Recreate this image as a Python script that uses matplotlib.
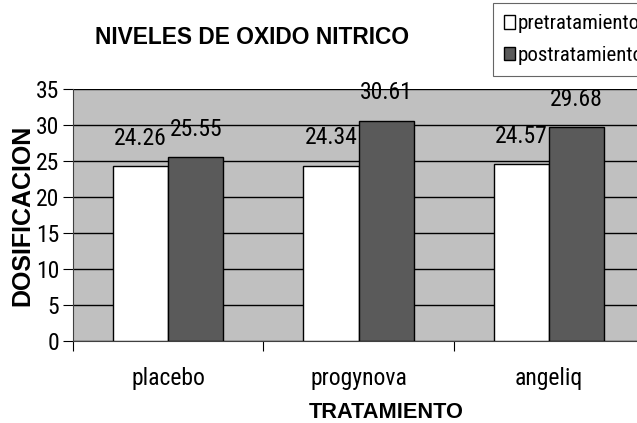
import matplotlib
matplotlib.use('Agg')
import matplotlib.pyplot as plt
from matplotlib import font_manager
import numpy as np

categories = ['placebo', 'progynova', 'angeliq']
pretratamiento = [24.26, 24.34, 24.57]
postratamiento = [25.55, 30.61, 29.68]
yticks = [0, 5, 10, 15, 20, 25, 30, 35]

# condensed font if there is one, Excel used Arial Narrow-ish text
names = {f.name for f in font_manager.fontManager.ttflist}
narrow = None
for cand in ['Liberation Sans Narrow', 'Roboto Condensed', 'Open Sans Condensed', 'Arial Narrow']:
    if cand in names:
        narrow = cand
        break
if narrow:
    nsize, lsize = 17, 15
else:
    narrow = 'Liberation Sans'
    nsize, lsize = 14, 12
bold = 'Liberation Sans'

fig = plt.figure(figsize=(6.37, 4.23), dpi=100)
ax = fig.add_axes([0.1146, 0.1939, 0.8964, 0.5957])
ax.set_facecolor('#c0c0c0')

x = np.arange(len(categories))
w = 0.29
b1 = ax.bar(x - w / 2, pretratamiento, w, color='white', edgecolor='black', linewidth=1, zorder=3, label='pretratamiento')
b2 = ax.bar(x + w / 2, postratamiento, w, color='#5a5a5a', edgecolor='black', linewidth=1, zorder=3, label='postratamiento')

for bars, vals in [(b1, pretratamiento), (b2, postratamiento)]:
    for rect, v in zip(bars, vals):
        ax.annotate(f'{v:.2f}', (rect.get_x() + rect.get_width() / 2, v),
                    xytext=(0, 20), textcoords='offset points',
                    ha='center', va='center', fontsize=nsize, family=narrow, zorder=4)

ax.set_ylim(0, 35)
ax.set_yticks(yticks)
ax.set_yticklabels([str(t) for t in yticks], family=narrow, fontsize=nsize)
ax.yaxis.grid(True, color='black', linewidth=1, zorder=1)
ax.set_xlim(-0.5, 2.5)
ax.set_xticks([-0.5, 0.5, 1.5, 2.5])
ax.set_xticklabels([])
ax.set_xticks(x, minor=True)
ax.set_xticklabels(categories, minor=True, family=narrow, fontsize=nsize)
ax.tick_params(axis='x', which='minor', length=0, pad=19)
ax.tick_params(axis='x', which='major', length=7, direction='out')
ax.tick_params(axis='y', length=7, direction='out', pad=3)
for s in ['top', 'right']:
    ax.spines[s].set_visible(False)
ax.spines['left'].set_color('#404040')
ax.spines['bottom'].set_color('#404040')

ax.set_xlabel('TRATAMIENTO', family=bold, fontweight='bold', fontsize=15.7, va='center')
ax.xaxis.set_label_coords(0.548, -0.282)
ax.set_ylabel('DOSIFICACION', family=bold, fontweight='bold', fontsize=18, va='center')
ax.yaxis.set_label_coords(-0.089, 0.5)

fig.text(252 / 637, 1 - 38 / 423, 'NIVELES DE OXIDO NITRICO', family=bold,
         fontweight='bold', fontsize=16.4, ha='center', va='center')

leg = ax.legend(loc='upper left', bbox_to_anchor=(493 / 637, 1 - 3 / 423),
                bbox_transform=fig.transFigure, prop={'family': narrow, 'size': lsize},
                frameon=True, fancybox=False, edgecolor='#404040', handlelength=0.5,
                handleheight=0.6, handletextpad=0.15, borderpad=0.55, labelspacing=0.6,
                borderaxespad=0)
leg.get_frame().set_linewidth(0.8)

fig.savefig('out.png', dpi=100)
